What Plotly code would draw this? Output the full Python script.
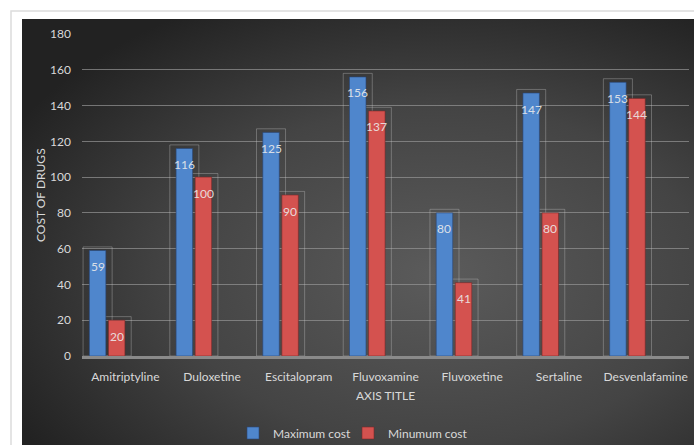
import base64
import plotly.graph_objects as go

categories = ["Amitriptyline", "Duloxetine", "Escitalopram", "Fluvoxamine",
              "Fluvoxetine", "Sertaline", "Desvenlafamine"]
max_cost = [59, 116, 125, 156, 80, 147, 153]
min_cost = [20, 100, 90, 137, 41, 80, 144]
y_ticks = [0, 20, 40, 60, 80, 100, 120, 140, 160, 180]

FONT = "Lato"
TXT = "#d9d9d9"
BLUE = "#4f86cc"
RED = "#d4524f"

# plot area geometry in pixels
W, H = 694, 445
L, R, T, B = 82, 5, 34, 89
pw, ph = W - L - R, H - T - B


def px_x(p):
    return (p - L) / pw


def px_y(p):
    return (H - B - p) / ph


bar_w = 0.19
frame_w = 0.335
blue_off, red_off = -0.415, -0.195

fig = go.Figure()

# decorative frames behind bars
for vals, off in [(max_cost, blue_off), (min_cost, red_off)]:
    fig.add_trace(go.Bar(
        x=categories, y=[v + 2 for v in vals], width=frame_w,
        offset=off + bar_w / 2 - frame_w / 2,
        marker=dict(color="rgba(0,0,0,0)",
                    line=dict(color="rgba(200,200,200,0.35)", width=1)),
        showlegend=False, hoverinfo="skip"))

fig.add_trace(go.Bar(
    name="Maximum cost", x=categories, y=max_cost, width=bar_w, offset=blue_off,
    legend="legend",
    marker=dict(color=BLUE, line=dict(color="rgba(40,70,120,0.6)", width=1))))
fig.add_trace(go.Bar(
    name="Minumum cost", x=categories, y=min_cost, width=bar_w, offset=red_off,
    legend="legend2",
    marker=dict(color=RED, line=dict(color="rgba(120,40,40,0.6)", width=1))))

annotations = []
for i, (a, b) in enumerate(zip(max_cost, min_cost)):
    for v, off in [(a, blue_off), (b, red_off)]:
        annotations.append(dict(
            x=i + off + bar_w / 2, y=v, xref="x", yref="y", text=str(v),
            showarrow=False, yanchor="middle", yshift=-16,
            font=dict(family=FONT, size=12, color="rgba(235,235,235,0.9)")))

annotations.append(dict(
    x=px_x(40), y=px_y(195), xref="paper", yref="paper", text="COST OF DRUGS",
    textangle=-90, showarrow=False, xanchor="center", yanchor="middle",
    font=dict(family=FONT, size=12, color=TXT)))
annotations.append(dict(
    x=0.5, y=px_y(395), xref="paper", yref="paper", text="AXIS TITLE",
    showarrow=False, xanchor="center", yanchor="middle",
    font=dict(family=FONT, size=12, color=TXT)))

svg = (
    "<svg xmlns='http://www.w3.org/2000/svg' width='672' height='426' "
    "viewBox='0 0 672 426' preserveAspectRatio='none'><defs>"
    "<radialGradient id='g' cx='0.62' cy='0.6' r='0.72'>"
    "<stop offset='0' stop-color='#5b5b5b'/>"
    "<stop offset='0.55' stop-color='#444444'/>"
    "<stop offset='1' stop-color='#222222'/></radialGradient></defs>"
    "<rect width='672' height='426' fill='url(#g)'/></svg>")
src = "data:image/svg+xml;base64," + base64.b64encode(svg.encode()).decode()

legend_common = dict(orientation="h", xanchor="left", yanchor="middle",
                     font=dict(family=FONT, size=12, color=TXT),
                     bgcolor="rgba(0,0,0,0)", itemwidth=30)

fig.update_layout(
    width=W, height=H,
    margin=dict(l=L, r=R, t=T, b=B, autoexpand=False),
    paper_bgcolor="white", plot_bgcolor="rgba(0,0,0,0)",
    barmode="overlay",
    font=dict(family=FONT, size=11, color=TXT),
    images=[dict(source=src, xref="paper", yref="paper",
                 x=px_x(22), y=px_y(19), sizex=px_x(694) - px_x(22),
                 sizey=px_y(19) - px_y(445), xanchor="left", yanchor="top",
                 sizing="stretch", layer="below")],
    shapes=[dict(type="rect", xref="paper", yref="paper", layer="below",
                 x0=px_x(11), x1=px_x(720), y0=px_y(470), y1=px_y(11),
                 line=dict(color="#dcdcdc", width=1.5),
                 fillcolor="rgba(0,0,0,0)")],
    annotations=annotations,
    legend=dict(x=px_x(233), y=px_y(433), **legend_common),
    legend2=dict(x=px_x(348), y=px_y(433), **legend_common),
    xaxis=dict(type="category", range=[-0.5, 6.5], showgrid=False,
               showline=True, linecolor="#8a8a8a", linewidth=3,
               ticks="", tickfont=dict(family=FONT, size=12, color=TXT),
               ticklabelstandoff=8, fixedrange=True),
    yaxis=dict(range=[0, 180], tickvals=y_ticks, showgrid=True,
               gridcolor="rgba(150,150,150,0.7)", gridwidth=1,
               zeroline=False, showline=False, ticks="",
               tickfont=dict(family=FONT, size=12, color=TXT),
               ticklabelstandoff=10, fixedrange=True),
)

fig.write_html("out.html")
